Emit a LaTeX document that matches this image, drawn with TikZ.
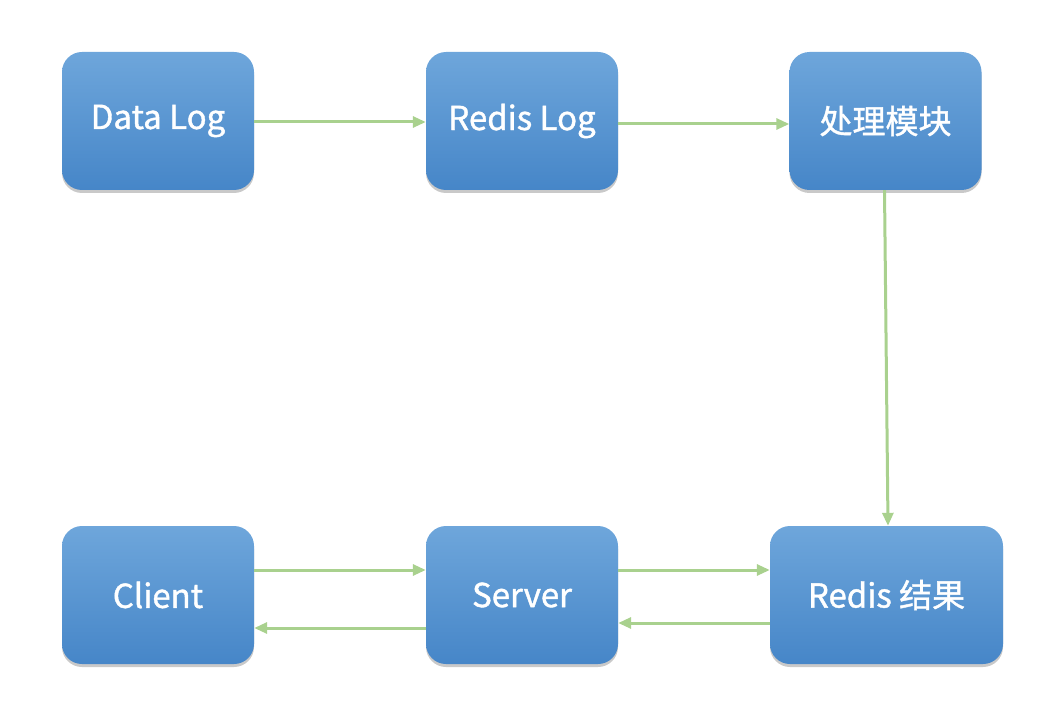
\documentclass[tikz,border=0pt]{standalone}
\usepackage{fontspec}
\setmainfont{Noto Sans CJK SC}[FakeBold=1.2]
\usetikzlibrary{shadows,arrows.meta}
\definecolor{boxtop}{HTML}{6EA6DB}
\definecolor{boxbot}{HTML}{4686C8}
\definecolor{arr}{HTML}{A9D18E}
\tikzset{
  box/.style={rounded corners=20pt, minimum width=192pt, minimum height=138pt,
    top color=boxtop, bottom color=boxbot, draw=none,
    drop shadow={shadow xshift=0pt, shadow yshift=-3pt, opacity=0.3, fill=black!70},
    text=white, font=\fontsize{33}{38}\selectfont, inner sep=0pt},
  conn/.style={draw=arr, line width=3pt, -{Triangle[length=13pt,width=11pt]}}
}
\begin{document}
\begin{tikzpicture}[x=1pt,y=-1pt]
\useasboundingbox (0,0) rectangle (1054,714);
\node[box] (dl) at (158,121) {Data Log};
\node[box] (rl) at (522,121) {Redis Log};
\node[box] (pm) at (885.5,121) {处理模块};
\node[box] (cl) at (158,595) {Client};
\node[box] (sv) at (522,595) {Server};
\node[box, minimum width=233pt] (rr) at (886.5,595) {Redis 结果};
\draw[conn] ([yshift=-1pt]dl.east) -- ([yshift=-1pt]rl.west);
\draw[conn] ([yshift=-3pt]rl.east) -- ([yshift=-3pt]pm.west);
\draw[conn] ([xshift=-1pt]pm.south) -- ([xshift=1.5pt]rr.north);
\draw[conn] ([yshift=25pt]cl.east) -- ([yshift=25pt]sv.west);
\draw[conn] ([yshift=-33pt]sv.west) -- ([yshift=-33pt]cl.east);
\draw[conn] ([yshift=25pt]sv.east) -- ([yshift=25pt]rr.west);
\draw[conn] ([yshift=-28pt]rr.west) -- ([yshift=-28pt]sv.east);
\end{tikzpicture}
\end{document}
